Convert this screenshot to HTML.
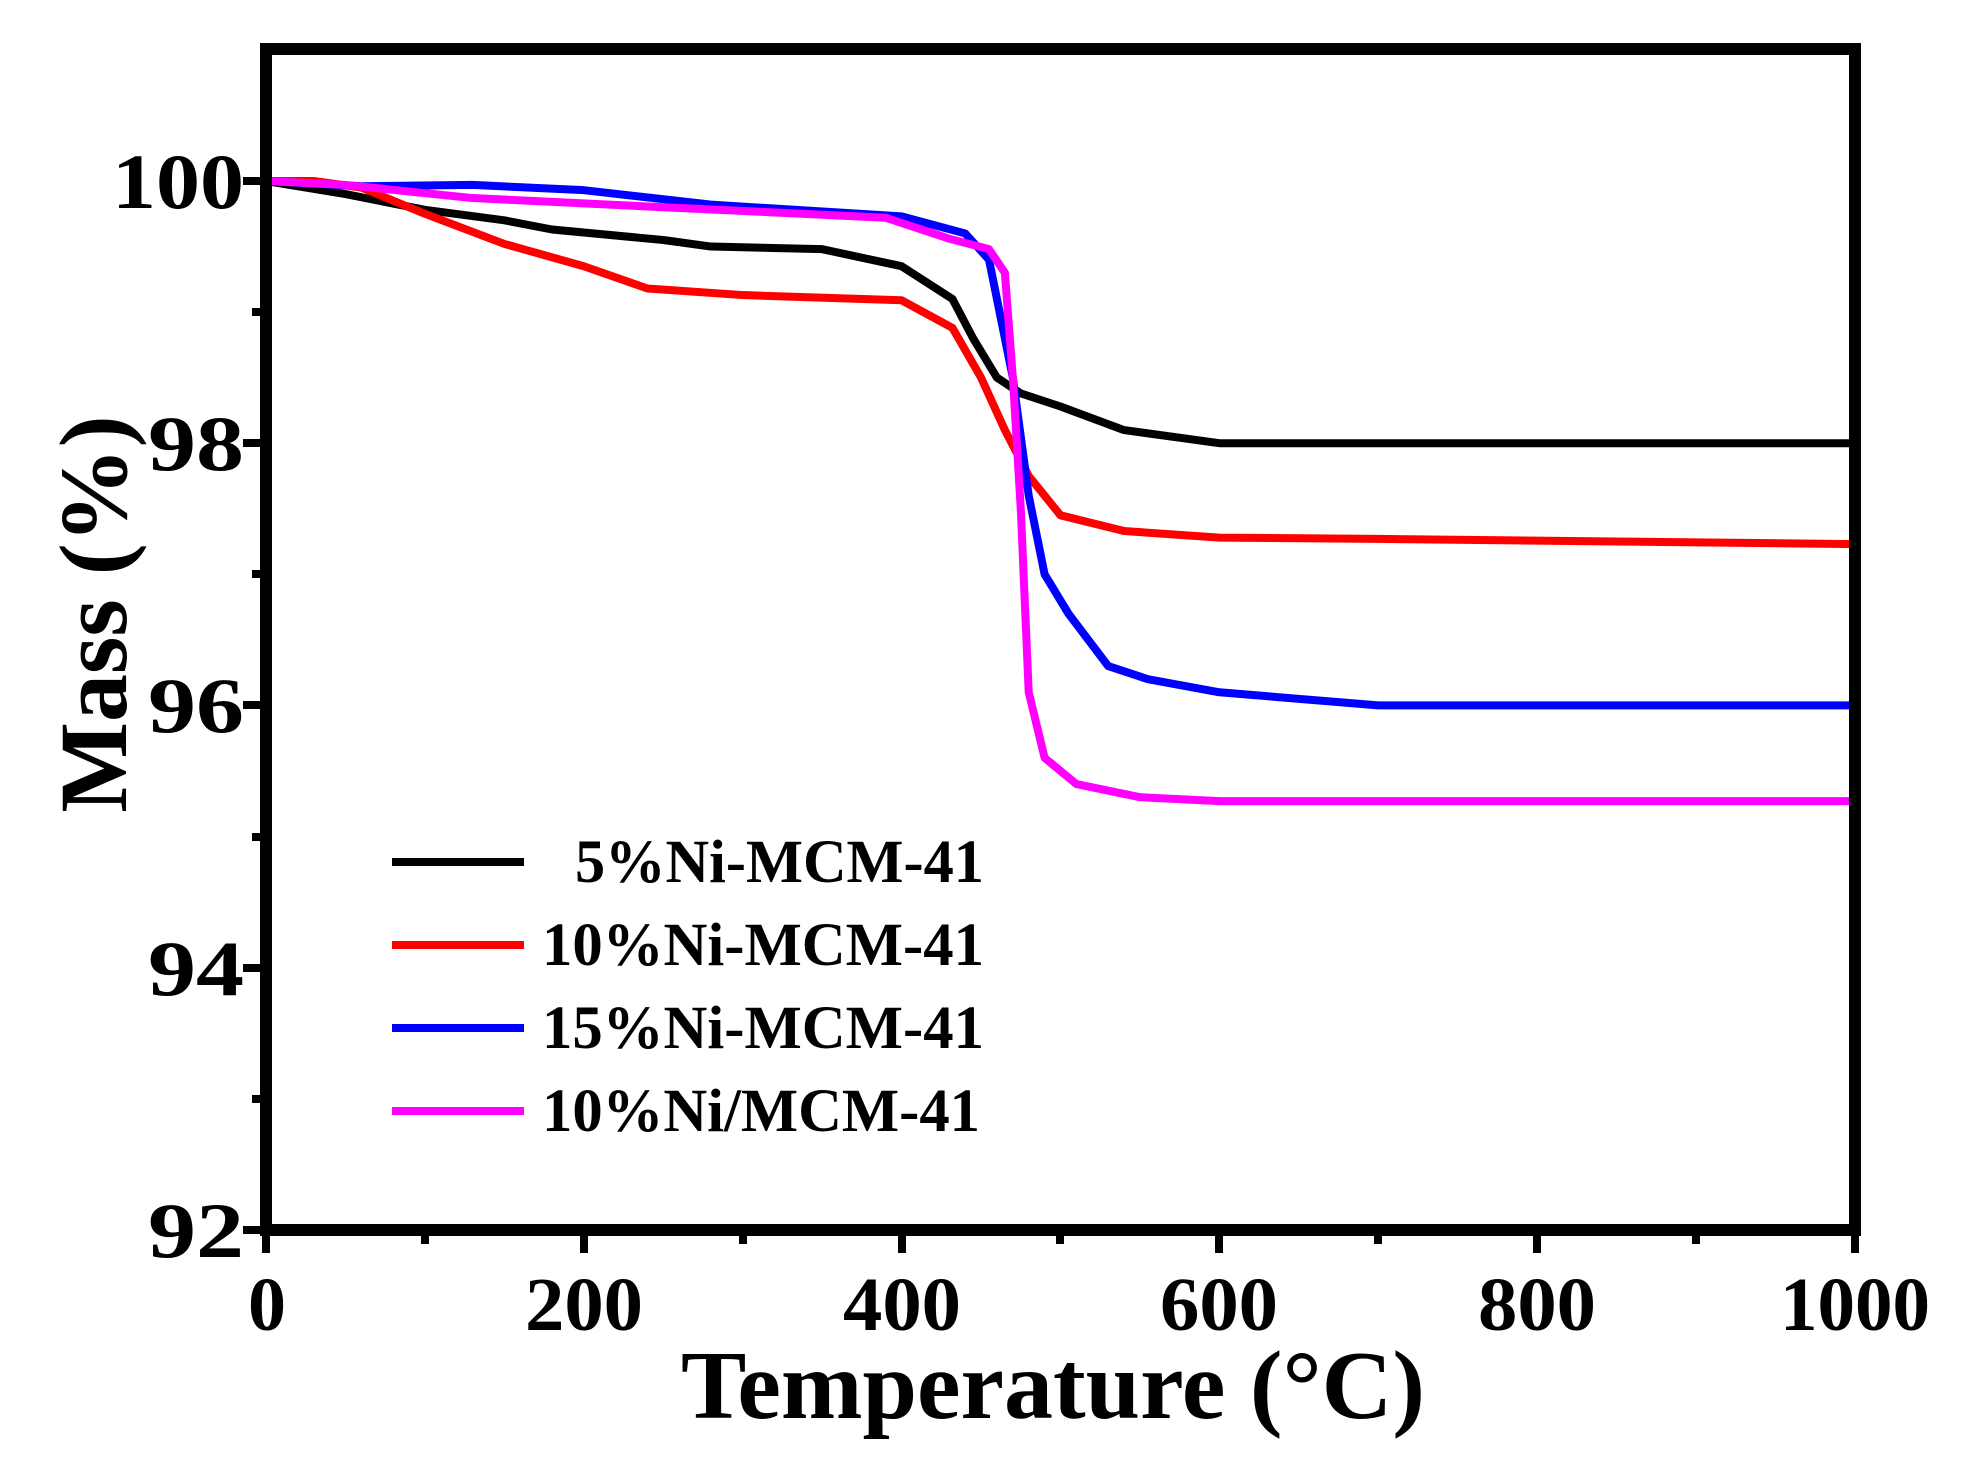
<!DOCTYPE html>
<html><head><meta charset="utf-8"><style>
html,body{margin:0;padding:0;background:#fff;}
svg{display:block;}
text{font-family:"Liberation Serif",serif;font-weight:bold;fill:#000;}
</style></head><body>
<svg width="1964" height="1468" viewBox="0 0 1964 1468" xmlns="http://www.w3.org/2000/svg">
<g transform="translate(266,181) scale(1.589,131.1)" fill="none" stroke-linejoin="round">
<polyline vector-effect="non-scaling-stroke" stroke="#000" stroke-width="8" points="0,0 50,0.1 100,0.22 150,0.3 180,0.37 250,0.45 280,0.5 350,0.52 400,0.65 432,0.9 445,1.2 460,1.5 475,1.62 500,1.72 540,1.9 600,2 1000,2"/>
<polyline vector-effect="non-scaling-stroke" stroke="#ff0000" stroke-width="8" points="0,0 30,0 60,0.05 100,0.25 150,0.48 200,0.65 240,0.82 300,0.87 400,0.91 432,1.12 450,1.5 465,1.9 480,2.25 500,2.55 540,2.67 600,2.72 700,2.73 1000,2.77"/>
<polyline vector-effect="non-scaling-stroke" stroke="#0000ff" stroke-width="8" points="0,0 60,0.04 130,0.03 200,0.07 280,0.18 400,0.27 440,0.4 455,0.6 470,1.5 480,2.4 490,3 505,3.3 530,3.7 555,3.8 600,3.9 700,4 1000,4"/>
<polyline vector-effect="non-scaling-stroke" stroke="#ff00ff" stroke-width="8" points="0,0 50,0.03 130,0.13 250,0.2 390,0.28 430,0.44 455,0.52 465,0.7 470,1.5 475,2.5 480,3.9 490,4.4 510,4.6 550,4.7 600,4.73 1000,4.73"/>
</g>
<rect x="266" y="49" width="1589" height="1181" fill="none" stroke="#000" stroke-width="12"/>
<g stroke="#000" stroke-width="8">
<line x1="243" y1="181" x2="266" y2="181"/><line x1="243" y1="443" x2="266" y2="443"/>
<line x1="243" y1="705" x2="266" y2="705"/><line x1="243" y1="968" x2="266" y2="968"/>
<line x1="243" y1="1230" x2="266" y2="1230"/>
<line x1="252" y1="312" x2="266" y2="312"/><line x1="252" y1="574" x2="266" y2="574"/>
<line x1="252" y1="837" x2="266" y2="837"/><line x1="252" y1="1099" x2="266" y2="1099"/>
<line x1="266" y1="1230" x2="266" y2="1253"/><line x1="584" y1="1230" x2="584" y2="1253"/>
<line x1="902" y1="1230" x2="902" y2="1253"/><line x1="1219" y1="1230" x2="1219" y2="1253"/>
<line x1="1537" y1="1230" x2="1537" y2="1253"/><line x1="1855" y1="1230" x2="1855" y2="1253"/>
<line x1="425" y1="1230" x2="425" y2="1244"/><line x1="743" y1="1230" x2="743" y2="1244"/>
<line x1="1060" y1="1230" x2="1060" y2="1244"/><line x1="1378" y1="1230" x2="1378" y2="1244"/>
<line x1="1696" y1="1230" x2="1696" y2="1244"/>
</g>
<g font-size="78">
<text x="112" y="208" textLength="132" lengthAdjust="spacingAndGlyphs">100</text>
<text x="148" y="470" textLength="96" lengthAdjust="spacingAndGlyphs">98</text>
<text x="148" y="732" textLength="96" lengthAdjust="spacingAndGlyphs">96</text>
<text x="148" y="995" textLength="96" lengthAdjust="spacingAndGlyphs">94</text>
<text x="148" y="1257" textLength="96" lengthAdjust="spacingAndGlyphs">92</text>
</g>
<g font-size="76">
<text x="248" y="1330" textLength="38" lengthAdjust="spacingAndGlyphs">0</text>
<text x="525" y="1330" textLength="118" lengthAdjust="spacingAndGlyphs">200</text>
<text x="843" y="1330" textLength="118" lengthAdjust="spacingAndGlyphs">400</text>
<text x="1160" y="1330" textLength="118" lengthAdjust="spacingAndGlyphs">600</text>
<text x="1478" y="1330" textLength="118" lengthAdjust="spacingAndGlyphs">800</text>
<text x="1780" y="1330" textLength="150" lengthAdjust="spacingAndGlyphs">1000</text>
</g>
<text x="1053" y="1418" font-size="98" text-anchor="middle">Temperature (°C)</text>
<text transform="translate(126,614) rotate(-90)" font-size="96" text-anchor="middle">Mass (%)</text>
<g stroke-width="8">
<line x1="392" y1="862" x2="524" y2="862" stroke="#000"/>
<line x1="392" y1="945" x2="524" y2="945" stroke="#ff0000"/>
<line x1="392" y1="1028" x2="524" y2="1028" stroke="#0000ff"/>
<line x1="392" y1="1111" x2="524" y2="1111" stroke="#ff00ff"/>
</g>
<g font-size="61">
<text x="575" y="882" textLength="409" lengthAdjust="spacingAndGlyphs">5%Ni-MCM-41</text>
<text x="542" y="965" textLength="442" lengthAdjust="spacingAndGlyphs">10%Ni-MCM-41</text>
<text x="542" y="1048" textLength="442" lengthAdjust="spacingAndGlyphs">15%Ni-MCM-41</text>
<text x="542" y="1131" textLength="438" lengthAdjust="spacingAndGlyphs">10%Ni/MCM-41</text>
</g>
</svg>
</body></html>
